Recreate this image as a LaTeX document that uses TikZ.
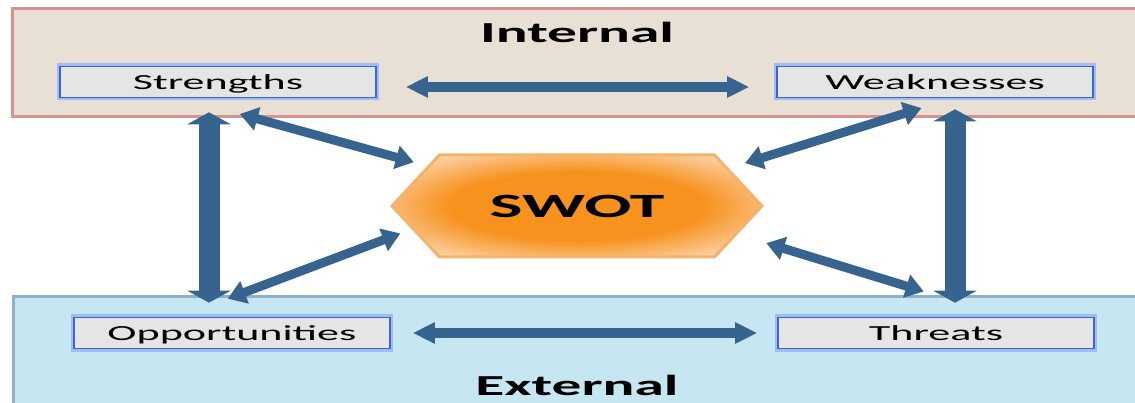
\documentclass[tikz,border=0pt]{standalone}
\usepackage{fontspec}
\setmainfont{Carlito}
\usetikzlibrary{arrows.meta, calc, positioning, shapes.symbols}

\definecolor{inFill}{HTML}{E8E0D4}
\definecolor{inLine}{HTML}{D9918F}
\definecolor{exFill}{HTML}{C6E7F1}
\definecolor{exLine}{HTML}{8DB1C8}
\definecolor{boxFill}{HTML}{E5E5E5}
\definecolor{boxLine}{HTML}{3D63D6}
\definecolor{boxGlow}{HTML}{9EBDF3}
\definecolor{swotBlue}{HTML}{36648F}
\definecolor{swotOrange}{HTML}{F7921E}
\definecolor{swotPeach}{HTML}{FCE3CA}
\definecolor{swotLine}{HTML}{F4B36A}

\pgfdeclareradialshading{swotglow}{\pgfpoint{0bp}{0bp}}{%
    color(0bp)=(swotOrange); color(17bp)=(swotOrange);
    color(34bp)=(swotPeach); color(50bp)=(swotPeach)}

\newcommand{\widetext}[1]{\scalebox{2.05}[1]{#1}}

\tikzset{
    panelIn/.style={fill=inFill, draw=inLine, line width=3pt},
    panelEx/.style={fill=exFill, draw=exLine, line width=3pt},
    factor/.style={draw=boxLine, line width=1.6pt, fill=boxFill,
        minimum width=316pt, minimum height=31pt, inner sep=0pt,
        text height=15pt, text depth=0pt,
        font=\fontsize{21.5}{21.5}\selectfont,
        preaction={draw=boxGlow, line width=6pt}},
    heading/.style={font=\bfseries\fontsize{29}{29}\selectfont, inner sep=0pt},
    swotsig/.style={shape=signal, signal to=west and east, signal pointer angle=94,
        draw=swotLine, line width=3pt, shading=swotglow,
        minimum width=370pt, minimum height=102pt, inner sep=0pt,
        font=\bfseries\fontsize{34}{34}\selectfont},
    bigA/.style={draw=swotBlue, line width=21pt,
        {Triangle[width=43pt,length=12pt]}-{Triangle[width=43pt,length=12pt]}},
    midA/.style={draw=swotBlue, line width=10pt,
        {Triangle[width=20pt,length=22pt]}-{Triangle[width=20pt,length=22pt]}},
    diagA/.style={draw=swotBlue, line width=9pt,
        {Triangle[width=23pt,length=18pt]}-{Triangle[width=23pt,length=18pt]}}
}

\begin{document}
\begin{tikzpicture}[x=1pt, y=-1pt]
    \useasboundingbox (0,0) rectangle (1135,403);
    \clip (0,0) rectangle (1135,403);
    % panels
    \draw[panelIn] (12,9) rectangle (1150,117);
    \draw[panelEx] (13,297) rectangle (1150,420);
    \node[heading] (internal) at (577,32) {\widetext{Internal}};
    \node[heading] (external) at (577,385) {\widetext{External}};
    % the four factors
    \node[factor] (str) at (218,82) {\widetext{Strengths}};
    \node[factor] (weak) at (935,82) {\widetext{Weaknesses}};
    \node[factor] (opp) at (232,333) {\widetext{Opportunities}};
    \node[factor] (thr) at (936,333) {\widetext{Threats}};
    \node[swotsig] (swot) at (577,206) {\widetext{SWOT}};
    % connectors
    \draw[midA, shorten <=29pt, shorten >=27pt] ([yshift=-5]str.east) -- ([yshift=-5]weak.west);
    \draw[midA, shorten <=22pt, shorten >=20pt] (opp.east) -- (thr.west);
    \draw[bigA, shorten <=14pt, shorten >=14pt] ([xshift=-9]str.south) -- ([xshift=-9]str.south |- opp.north);
    \draw[bigA, shorten <=11pt, shorten >=14pt] ([xshift=20]weak.south) -- ([xshift=20]weak.south |- thr.north);
    \draw[diagA, shorten <=59pt, shorten >=14pt] ([xshift=-35]str.south) -- (swot.165);
    \draw[diagA, shorten <=33pt, shorten >=17pt] ([xshift=18]weak.south) -- (swot.14);
    \draw[diagA, shorten <=51pt, shorten >=12pt] ([xshift=-52]opp.north) -- (swot.188);
    \draw[diagA, shorten <=86pt, shorten >=30pt] ([xshift=70]thr.north) -- (swot.350);
\end{tikzpicture}
\end{document}
